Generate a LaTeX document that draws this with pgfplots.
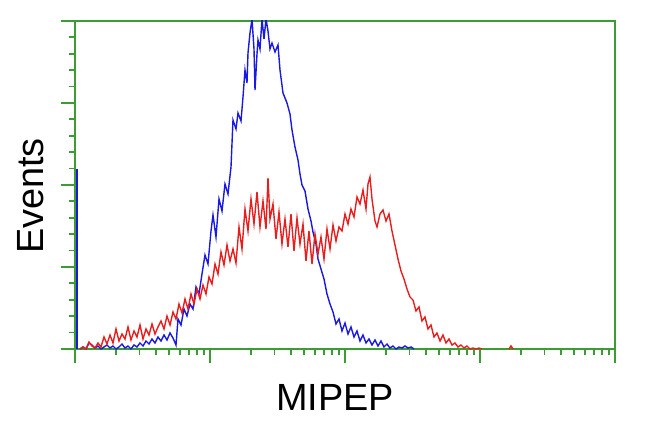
\documentclass[border=0pt]{standalone}
\usepackage{pgfplots}
\pgfplotsset{compat=1.18}
\usepackage{fontspec}
\setmainfont{Liberation Sans}
\definecolor{axgreen}{RGB}{60,155,50}
\definecolor{cblue}{RGB}{25,25,225}
\definecolor{cred}{RGB}{232,30,30}
\begin{document}
\begin{tikzpicture}
\path[use as bounding box] (-75bp,-83bp) rectangle (575bp,349bp);
\begin{axis}[
  scale only axis, width=540bp, height=328bp,
  xmin=75, xmax=615, ymin=0, ymax=328,
  axis line style={axgreen, line width=2.2bp},
  tick style={axgreen, line width=1.8bp},
  tick align=outside,
  major tick length=14bp, minor tick length=6bp,
  xtick={75,210,345,480,615},
  minor xtick={115.64,139.41,156.28,169.36,180.05,189.09,196.92,203.82,
               250.64,274.41,291.28,304.36,315.05,324.09,331.92,338.82,
               385.64,409.41,426.28,439.36,450.05,459.09,466.92,473.82,
               520.64,544.41,561.28,574.36,585.05,594.09,601.92,608.82},
  ytick={0,82,164,246,328},
  minor y tick num=4,
  xticklabels={}, yticklabels={},
  xtick pos=bottom, ytick pos=left,
  clip=true,
]
\addplot[cblue, line width=2.6bp] coordinates {(77,0) (77,180)};
\addplot[cblue, line width=1.4bp] coordinates {
(80,0)(83,2)(86,0)(89,6)(92,4)(95,1)(98,3)(101,0)(104,2)(107,4)(110,1)(113,3)(116,0)(119,2)(122,5)(125,1)(128,3)(131,0)(134,4)(137,2)(140,6)(143,3)(146,8)(149,5)(152,10)(155,6)(158,12)(161,8)(164,14)(167,9)(170,16)(173,11)(176,4)(178,30)(181,24)(184,40)(187,33)(190,45)(193,40)(196,62)(199,55)(202,75)(205,94)(208,85)(211,118)(213,134)(216,112)(219,150)(222,138)(225,165)(228,155)(231,182)(233,229)(236,220)(238,236)(241,228)(243,252)(245,279)(247,266)(248,296)(250,316)(252,330)(254,300)(255,259)(257,295)(258,309)(260,300)(262,330)(264,310)(266,330)(268,318)(270,300)(272,306)(275,297)(278,304)(280,279)(283,256)(287,246)(290,235)(292,219)(295,202)(298,189)(300,175)(302,164)(305,158)(308,140)(311,128)(313,117)(316,105)(318,90)(321,80)(324,70)(327,55)(330,45)(333,37)(336,25)(339,30)(342,18)(345,26)(348,15)(351,22)(354,12)(357,18)(360,8)(363,14)(366,6)(369,10)(372,4)(375,9)(378,3)(381,8)(384,2)(387,5)(390,1)(393,3)(396,0)(399,2)(402,1)(405,3)(408,1)(411,2)(414,0)
};
\addplot[cred, line width=1.4bp] coordinates {
(80,0)(83,2)(86,0)(89,7)(92,3)(95,1)(98,6)(101,2)(104,12)(107,5)(110,14)(113,6)(116,20)(119,8)(122,15)(125,10)(128,22)(131,9)(134,18)(137,12)(140,24)(143,10)(146,20)(149,14)(152,25)(155,15)(158,22)(161,28)(164,20)(167,33)(170,24)(173,37)(176,30)(179,45)(182,36)(185,50)(188,40)(191,55)(194,45)(197,60)(200,50)(203,64)(206,55)(209,72)(212,65)(215,85)(218,75)(221,97)(224,84)(227,104)(230,88)(233,100)(236,86)(239,122)(242,100)(245,140)(248,118)(251,150)(254,125)(257,157)(260,122)(263,148)(266,120)(268,171)(270,130)(273,145)(276,110)(279,137)(282,105)(285,130)(288,102)(291,135)(294,98)(297,131)(300,105)(303,125)(306,88)(309,118)(312,85)(315,115)(318,95)(321,112)(324,90)(327,120)(330,100)(333,124)(336,108)(339,122)(342,118)(345,135)(348,125)(351,140)(354,132)(357,152)(360,145)(363,159)(366,140)(368,165)(370,172)(372,150)(375,128)(377,122)(380,135)(383,139)(386,128)(389,135)(392,118)(395,104)(398,90)(401,78)(404,70)(407,60)(410,52)(413,49)(416,38)(419,42)(422,28)(425,32)(428,20)(431,24)(434,12)(437,16)(440,8)(443,14)(446,6)(449,10)(452,4)(455,6)(458,2)(461,4)(464,1)(467,3)(470,0)(473,1)(476,0)(479,1)(482,0)
};
\addplot[cred, line width=1.4bp] coordinates {(509,0)(511,3)(513,0)};
\end{axis}
\node[anchor=base, inner sep=0pt] at (260bp,-61bp) {\fontsize{38}{40}\selectfont MIPEP};
\node[anchor=base, rotate=90, inner sep=0pt] at (-32bp,153bp) {\fontsize{38}{40}\selectfont Events};
\end{tikzpicture}
\end{document}
